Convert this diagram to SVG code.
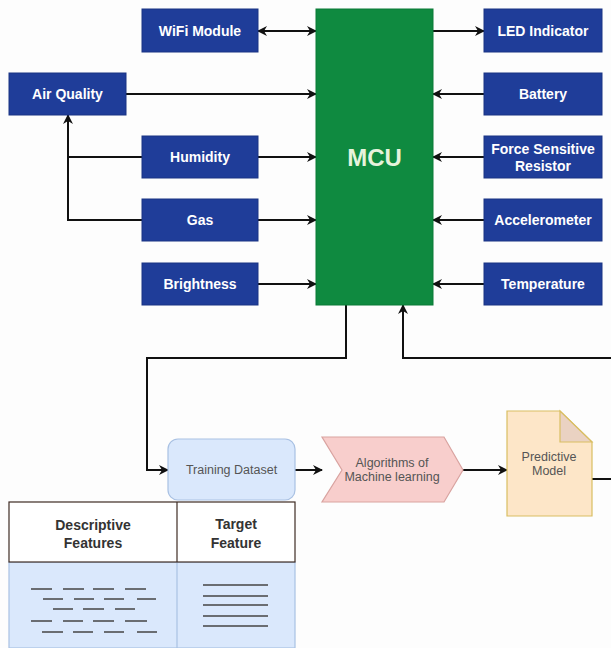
<svg xmlns="http://www.w3.org/2000/svg" width="611" height="648" viewBox="0 0 611 648">
<defs>
<marker id="ah" viewBox="0 0 10 10" refX="9" refY="5" markerWidth="10" markerHeight="10" markerUnits="userSpaceOnUse" orient="auto-start-reverse">
<path d="M0,0 L10,5 L0,10 L3,5 z" fill="#111"/>
</marker>
<style>
.bg{fill:#fdfdfd}
.blue rect{fill:#1f3d99;stroke:#1a3484;stroke-width:1}
.blue text{fill:#fff;font-family:"Liberation Sans",Arial,sans-serif;font-weight:bold;font-size:14px;text-anchor:middle}
.c{fill:none;stroke:#111;stroke-width:2}
.ca{fill:none;stroke:#111;stroke-width:2;marker-end:url(#ah)}
.lt{font-family:"Liberation Sans",Arial,sans-serif;font-size:12.5px;text-anchor:middle;fill:#555}
.hd{font-family:"Liberation Sans",Arial,sans-serif;font-size:14px;font-weight:bold;text-anchor:middle;fill:#333}
.dl{stroke:#444;stroke-width:1.5}
</style>
</defs>
<rect class="bg" x="0" y="0" width="611" height="648"/>

<g id="connectors">
<path class="c" d="M258,31 H316" marker-start="url(#ah)" marker-end="url(#ah)"/>
<path class="ca" d="M126,94 H316"/>
<path class="ca" d="M258,157 H316"/>
<path class="ca" d="M258,220 H316"/>
<path class="ca" d="M258,284 H316"/>
<path class="c" d="M142,157 H68"/>
<path class="ca" d="M142,220 H68 V115"/>
<path class="ca" d="M433,31 H484"/>
<path class="ca" d="M484,94 H433"/>
<path class="ca" d="M484,157 H433"/>
<path class="ca" d="M484,220 H433"/>
<path class="ca" d="M484,284 H433"/>
<path class="ca" d="M346,305 V358 H147 V470 H168"/>
<path class="ca" d="M611,358 H403 V305"/>
<path class="ca" d="M295,470 H322"/>
<path class="ca" d="M463,470 H507"/>
<path class="c" d="M592,479 H611"/>
</g>

<g id="mcu">
<rect x="316" y="9" width="117" height="296" fill="#0f8a40" stroke="#0b7a36" stroke-width="1"/>
<text x="374.5" y="166" font-family="'Liberation Sans',Arial,sans-serif" font-weight="bold" font-size="24" fill="#e6f3dc" text-anchor="middle">MCU</text>
</g>

<g id="wifi" class="blue"><rect x="142" y="9" width="116" height="43"/><text x="200" y="36">WiFi Module</text></g>
<g id="airquality" class="blue"><rect x="9" y="73" width="117" height="42"/><text x="67.5" y="99">Air Quality</text></g>
<g id="humidity" class="blue"><rect x="142" y="136" width="116" height="42"/><text x="200" y="162">Humidity</text></g>
<g id="gas" class="blue"><rect x="142" y="199" width="116" height="42"/><text x="200" y="225">Gas</text></g>
<g id="brightness" class="blue"><rect x="142" y="263" width="116" height="42"/><text x="200" y="289">Brightness</text></g>

<g id="led" class="blue"><rect x="484" y="9" width="118" height="43"/><text x="543" y="36">LED Indicator</text></g>
<g id="battery" class="blue"><rect x="484" y="73" width="118" height="42"/><text x="543" y="99">Battery</text></g>
<g id="fsr" class="blue"><rect x="484" y="136" width="118" height="42"/><text x="543" y="154">Force Sensitive</text><text x="543" y="171">Resistor</text></g>
<g id="accel" class="blue"><rect x="484" y="199" width="118" height="42"/><text x="543" y="225">Accelerometer</text></g>
<g id="temp" class="blue"><rect x="484" y="263" width="118" height="42"/><text x="543" y="289">Temperature</text></g>

<g id="training">
<rect x="168" y="439" width="127" height="61" rx="10" fill="#dae8fc" stroke="#a9c1e3" stroke-width="1.2"/>
<text class="lt" x="231.5" y="474">Training Dataset</text>
</g>

<g id="algorithms">
<polygon points="322,437 444,437 463,470 444,502 322,502 342,470" fill="#f8cecc" stroke="#d9a3a0" stroke-width="1.2"/>
<text class="lt" x="392" y="467">Algorithms of</text>
<text class="lt" x="392" y="481">Machine learning</text>
</g>

<g id="predictive">
<path d="M507,411 H560 L592,442 V516 H507 Z" fill="#fde6c8" stroke="#d9be62" stroke-width="1.2"/>
<path d="M560,411 V442 H592 Z" fill="#ead2c2" stroke="#d9be62" stroke-width="1.2"/>
<text class="lt" x="549" y="461">Predictive</text>
<text class="lt" x="549" y="475">Model</text>
</g>

<g id="table">
<rect x="9" y="562" width="286" height="86" fill="#dae8fc" stroke="#a9c1e3" stroke-width="1.2"/>
<line x1="177" y1="562" x2="177" y2="648" stroke="#a9c1e3" stroke-width="1.2"/>
<rect x="9" y="502" width="286" height="60" fill="#fff" stroke="#3e2c24" stroke-width="1.2"/>
<line x1="177" y1="502" x2="177" y2="562" stroke="#3e2c24" stroke-width="1.2"/>
<text class="hd" x="93" y="530">Descriptive</text>
<text class="hd" x="93" y="548">Features</text>
<text class="hd" x="236" y="529">Target</text>
<text class="hd" x="236" y="548">Feature</text>
<g class="dl">
<line x1="31" y1="589" x2="52" y2="589"/><line x1="63" y1="589" x2="84" y2="589"/><line x1="93" y1="589" x2="114" y2="589"/><line x1="125" y1="589" x2="146" y2="589"/>
<line x1="43" y1="599" x2="63" y2="599"/><line x1="74" y1="599" x2="94" y2="599"/><line x1="104" y1="599" x2="124" y2="599"/><line x1="137" y1="599" x2="156" y2="599"/>
<line x1="53" y1="609" x2="73" y2="609"/><line x1="83" y1="609" x2="104" y2="609"/><line x1="115" y1="609" x2="135" y2="609"/>
<line x1="31" y1="621" x2="52" y2="621"/><line x1="63" y1="621" x2="83" y2="621"/><line x1="93" y1="621" x2="114" y2="621"/><line x1="125" y1="621" x2="147" y2="621"/>
<line x1="42" y1="632" x2="63" y2="632"/><line x1="73" y1="632" x2="93" y2="632"/><line x1="104" y1="632" x2="124" y2="632"/><line x1="137" y1="632" x2="157" y2="632"/>
<line x1="203" y1="585" x2="268" y2="585"/><line x1="203" y1="596" x2="268" y2="596"/><line x1="203" y1="605" x2="268" y2="605"/><line x1="203" y1="616" x2="268" y2="616"/><line x1="203" y1="626" x2="268" y2="626"/>
</g>
</g>
</svg>
